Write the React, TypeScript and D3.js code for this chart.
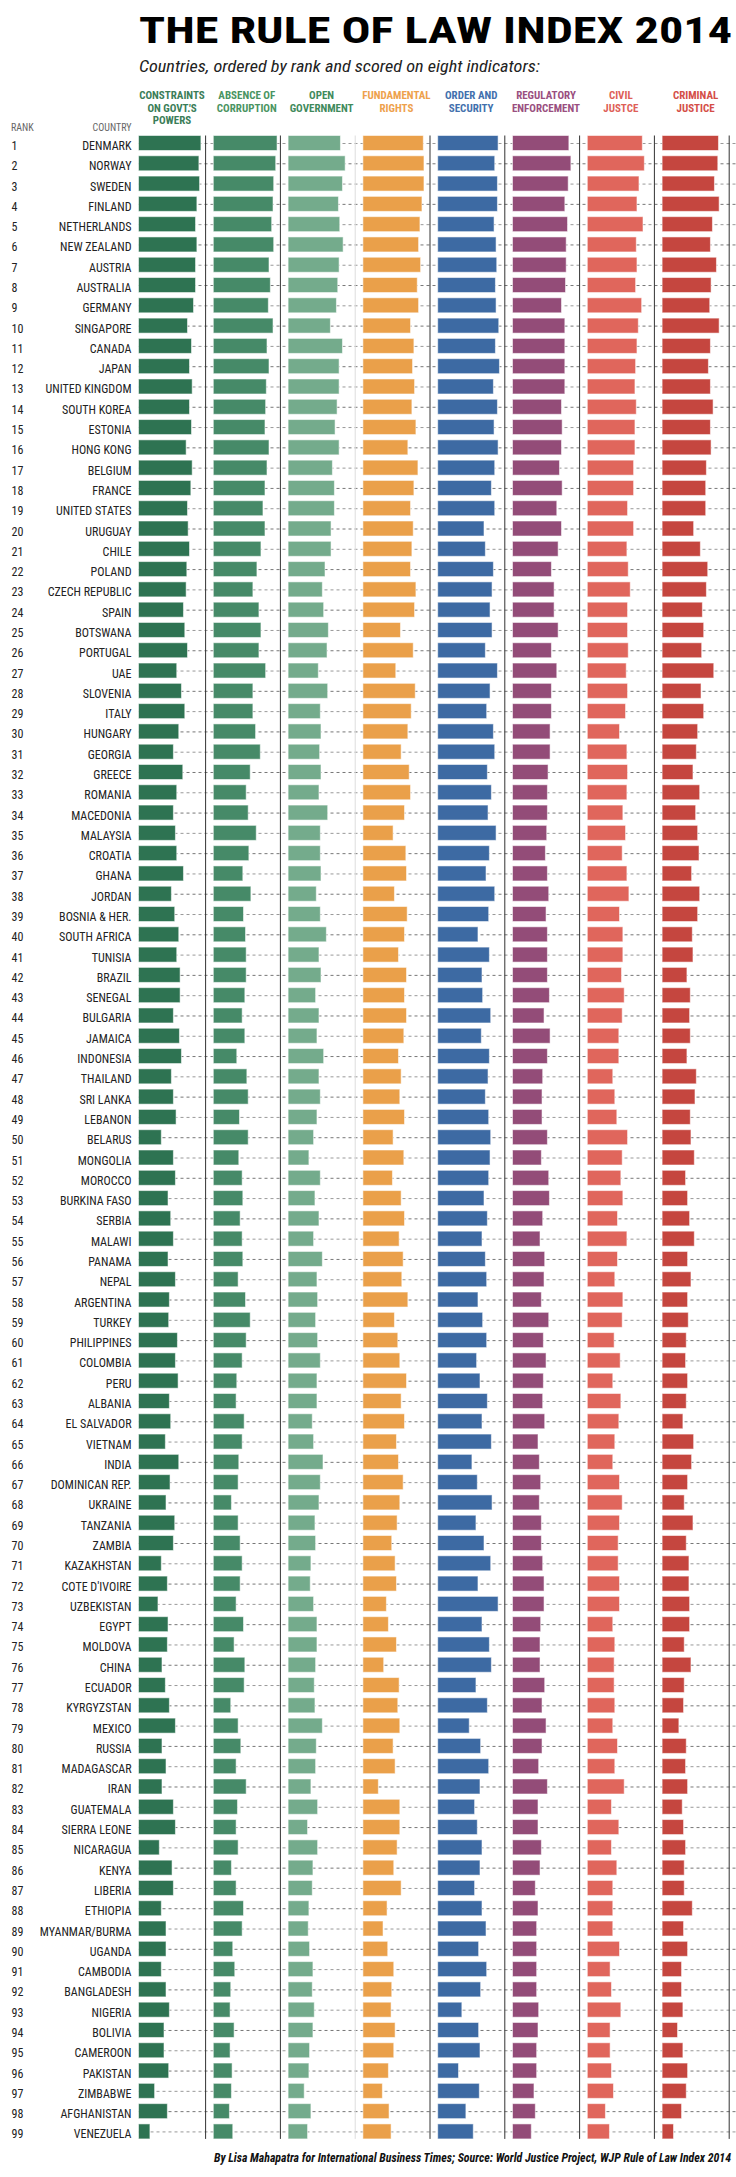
import React from "react";
import * as d3 from "d3";

const countries = ["DENMARK","NORWAY","SWEDEN","FINLAND","NETHERLANDS","NEW ZEALAND","AUSTRIA","AUSTRALIA","GERMANY","SINGAPORE",
"CANADA","JAPAN","UNITED KINGDOM","SOUTH KOREA","ESTONIA","HONG KONG","BELGIUM","FRANCE","UNITED STATES","URUGUAY",
"CHILE","POLAND","CZECH REPUBLIC","SPAIN","BOTSWANA","PORTUGAL","UAE","SLOVENIA","ITALY","HUNGARY",
"GEORGIA","GREECE","ROMANIA","MACEDONIA","MALAYSIA","CROATIA","GHANA","JORDAN","BOSNIA & HER.","SOUTH AFRICA",
"TUNISIA","BRAZIL","SENEGAL","BULGARIA","JAMAICA","INDONESIA","THAILAND","SRI LANKA","LEBANON","BELARUS",
"MONGOLIA","MOROCCO","BURKINA FASO","SERBIA","MALAWI","PANAMA","NEPAL","ARGENTINA","TURKEY","PHILIPPINES",
"COLOMBIA","PERU","ALBANIA","EL SALVADOR","VIETNAM","INDIA","DOMINICAN REP.","UKRAINE","TANZANIA","ZAMBIA",
"KAZAKHSTAN","COTE D'IVOIRE","UZBEKISTAN","EGYPT","MOLDOVA","CHINA","ECUADOR","KYRGYZSTAN","MEXICO","RUSSIA",
"MADAGASCAR","IRAN","GUATEMALA","SIERRA LEONE","NICARAGUA","KENYA","LIBERIA","ETHIOPIA","MYANMAR/BURMA","UGANDA",
"CAMBODIA","BANGLADESH","NIGERIA","BOLIVIA","CAMEROON","PAKISTAN","ZIMBABWE","AFGHANISTAN","VENEZUELA"];

const constraints = [.93,.90,.91,.87,.85,.87,.85,.85,.82,.73,
.79,.76,.80,.76,.79,.71,.80,.78,.73,.74,
.76,.72,.71,.67,.69,.73,.57,.64,.69,.60,
.52,.66,.57,.52,.55,.57,.67,.49,.54,.60,
.57,.62,.62,.52,.61,.64,.49,.52,.56,.34,
.52,.55,.44,.48,.52,.44,.55,.46,.45,.58,
.55,.59,.46,.48,.40,.60,.47,.41,.54,.52,
.34,.43,.29,.44,.43,.35,.40,.46,.55,.35,
.41,.35,.52,.55,.31,.50,.52,.34,.41,.41,
.34,.41,.46,.38,.38,.45,.24,.43,.17];

const corruption = [.95,.93,.90,.89,.87,.90,.83,.85,.82,.89,
.80,.83,.79,.78,.77,.83,.80,.77,.74,.77,
.71,.65,.59,.68,.71,.68,.78,.59,.59,.63,
.70,.55,.49,.52,.64,.53,.44,.56,.45,.48,
.49,.49,.47,.43,.47,.35,.50,.52,.39,.52,
.38,.43,.44,.40,.43,.44,.37,.48,.55,.49,
.43,.35,.34,.46,.43,.38,.37,.27,.37,.40,
.43,.40,.34,.45,.31,.47,.46,.26,.37,.41,
.34,.49,.36,.34,.37,.27,.34,.45,.43,.29,
.32,.26,.25,.31,.25,.28,.27,.24,.29];

const openGov = [.78,.85,.81,.75,.77,.82,.76,.74,.72,.63,
.81,.76,.76,.73,.70,.76,.66,.69,.69,.64,
.64,.55,.51,.53,.60,.58,.45,.59,.48,.49,
.47,.49,.46,.59,.48,.48,.49,.42,.48,.57,
.46,.49,.41,.46,.43,.53,.46,.48,.43,.38,
.31,.48,.40,.46,.38,.51,.43,.44,.41,.44,
.48,.43,.43,.36,.38,.52,.48,.46,.40,.41,
.34,.33,.38,.43,.43,.41,.39,.40,.51,.42,
.41,.34,.44,.29,.44,.37,.36,.31,.30,.32,
.37,.36,.39,.37,.32,.31,.24,.34,.29];

const fundRights = [.90,.91,.91,.88,.85,.83,.86,.81,.83,.71,
.76,.74,.77,.73,.79,.67,.82,.76,.71,.75,
.73,.71,.79,.77,.56,.75,.49,.78,.72,.67,
.57,.69,.71,.62,.45,.64,.65,.47,.66,.62,
.53,.65,.62,.65,.61,.53,.57,.55,.62,.45,
.61,.44,.57,.62,.54,.60,.58,.67,.47,.52,
.55,.65,.57,.62,.50,.53,.60,.55,.51,.43,
.48,.50,.35,.38,.50,.31,.54,.52,.55,.45,
.48,.23,.55,.55,.51,.46,.57,.36,.30,.37,
.46,.43,.42,.48,.46,.38,.29,.39,.42];

const orderSec = [.90,.85,.89,.89,.84,.87,.88,.86,.87,.91,
.86,.92,.83,.89,.84,.90,.85,.80,.85,.69,
.71,.83,.81,.78,.81,.71,.89,.78,.73,.83,
.85,.74,.80,.75,.87,.77,.72,.85,.76,.60,
.77,.66,.67,.79,.65,.77,.75,.71,.76,.79,
.78,.76,.69,.74,.66,.71,.73,.60,.67,.73,
.58,.63,.74,.66,.80,.51,.59,.81,.57,.69,
.79,.60,.90,.66,.77,.80,.57,.74,.47,.64,
.76,.63,.55,.59,.66,.63,.55,.66,.72,.61,
.73,.64,.36,.61,.63,.31,.62,.42,.53];

const regEnf = [.84,.87,.83,.78,.82,.80,.80,.79,.73,.78,
.78,.78,.78,.73,.74,.73,.70,.74,.66,.73,
.68,.58,.62,.62,.68,.58,.66,.58,.58,.56,
.56,.53,.52,.52,.51,.49,.52,.54,.50,.52,
.52,.52,.55,.47,.56,.52,.45,.44,.44,.52,
.43,.54,.55,.45,.41,.48,.47,.43,.54,.46,
.50,.46,.45,.48,.38,.40,.42,.40,.43,.43,
.45,.47,.47,.42,.41,.41,.48,.44,.50,.44,
.39,.52,.38,.38,.43,.41,.34,.38,.36,.36,
.36,.36,.39,.38,.36,.36,.32,.34,.28];

const civilJustice = [.82,.85,.77,.74,.83,.73,.74,.72,.81,.76,
.74,.72,.71,.73,.71,.71,.69,.69,.60,.69,
.59,.61,.64,.60,.60,.61,.58,.60,.57,.48,
.59,.60,.59,.53,.57,.52,.59,.62,.48,.53,
.53,.51,.55,.52,.47,.47,.38,.41,.44,.60,
.52,.50,.53,.45,.59,.45,.41,.53,.52,.40,
.49,.38,.50,.47,.41,.38,.48,.52,.48,.46,
.46,.48,.48,.38,.41,.40,.40,.41,.38,.45,
.41,.55,.36,.47,.36,.44,.38,.38,.38,.48,
.34,.36,.50,.34,.34,.36,.39,.27,.33];

const criminalJustice = [.84,.83,.78,.85,.75,.72,.81,.73,.71,.85,
.72,.69,.72,.76,.72,.73,.66,.65,.65,.47,
.57,.68,.66,.60,.62,.59,.77,.58,.62,.53,
.51,.46,.56,.50,.53,.55,.44,.56,.53,.45,
.46,.37,.42,.41,.42,.37,.51,.49,.42,.43,
.48,.35,.38,.41,.48,.38,.43,.38,.39,.36,
.35,.38,.36,.31,.47,.44,.38,.33,.46,.36,
.40,.40,.41,.41,.33,.43,.33,.32,.25,.36,
.35,.38,.30,.32,.35,.33,.33,.45,.32,.38,
.29,.29,.31,.23,.31,.38,.36,.29,.17];

const indicatorLabels = [
  ["CONSTRAINTS", "ON GOVT.'S", "POWERS"],
  ["ABSENCE OF", "CORRUPTION"],
  ["OPEN", "GOVERNMENT"],
  ["FUNDAMENTAL", "RIGHTS"],
  ["ORDER AND", "SECURITY"],
  ["REGULATORY", "ENFORCEMENT"],
  ["CIVIL", "JUSTCE"],
  ["CRIMINAL", "JUSTICE"],
];
const seriesList = [constraints, corruption, openGov, fundRights, orderSec, regEnf, civilJustice, criminalJustice];
const barColors = ["#2e7352", "#468a68", "#74ab8c", "#eaa04a", "#3d6aa3", "#934c78", "#e0665c", "#c5463f"];
const headColors = ["#3a7d58", "#4a9462", "#3f8a5c", "#eea14c", "#4270ad", "#9a4f80", "#de5f58", "#d44e47"];

const NARROW = "'Liberation Sans Narrow', 'Arial Narrow', 'Roboto Condensed', 'DejaVu Sans Condensed', sans-serif";

export default function App() {
  const W = 736, H = 2177;
  const col = d3.scaleBand<number>().domain(d3.range(8)).range([138.5, 138.5 + 8 * 74.8]).padding(0);
  const x = d3.scaleLinear().domain([0, 1]).range([0, 67.1]);
  const y = d3.scaleLinear().domain([0, countries.length - 1]).range([135.5, 135.5 + 98 * 20.29]);
  const barH = 15;
  const top = y(0), bottom = y(countries.length - 1) + barH;

  return (
    <svg width={W} height={H} style={{ position: "absolute", left: 0, top: 0, background: "#fff" }}>
      <text x={139} y={43} fontFamily={NARROW} fontWeight="bold" fontSize={37} fill="#000"
        textLength={593} lengthAdjust="spacingAndGlyphs">THE RULE OF LAW INDEX 2014</text>
      <text x={139} y={72} fontFamily={NARROW} fontStyle="italic" fontSize={16} fill="#222"
        textLength={401} lengthAdjust="spacingAndGlyphs">Countries, ordered by rank and scored on eight indicators:</text>

      {indicatorLabels.map((lines, c) => (
        <text key={"h" + c} x={(col(c) as number) + 33.5} textAnchor="middle" fontFamily={NARROW}
          fontWeight="bold" fontSize={11} fill={headColors[c]}>
          {lines.map((l, k) => (
            <tspan key={k} x={(col(c) as number) + 33.5} y={99 + k * 12.5}>{l}</tspan>
          ))}
        </text>
      ))}
      <text x={11} y={131} fontFamily={NARROW} fontSize={10} fill="#666">RANK</text>
      <text x={131.5} y={131} textAnchor="end" fontFamily={NARROW} fontSize={10} fill="#666">COUNTRY</text>

      {countries.map((name, i) => {
        const ty = y(i);
        return (
          <g key={name}>
            <line x1={138.5} x2={736} y1={ty + 8} y2={ty + 8} stroke={i % 2 ? "#777" : "#999"} strokeWidth={1} strokeDasharray="3,3" />
            <text x={11.5} y={ty + 14.5} fontFamily={NARROW} fontSize={12} fill="#222">{i + 1}</text>
            <text x={131.5} y={ty + 14.5} textAnchor="end" fontFamily={NARROW} fontSize={12} fill="#222">{name}</text>
          </g>
        );
      })}

      {d3.range(8).map((c) => (
        <line key={"v" + c} x1={(col(c) as number) + x(1)} x2={(col(c) as number) + x(1)} y1={top} y2={bottom}
          stroke={c === 2 ? "#ddd" : "#333"} strokeWidth={1} />
      ))}

      {seriesList.map((vals, c) => (
        <g key={"s" + c}>
          {vals.map((v, i) => (
            <rect key={i} x={col(c) as number} y={y(i)} width={x(v)} height={barH}
              fill={barColors[c]} stroke="rgba(255,255,255,0.55)" strokeWidth={1} />
          ))}
        </g>
      ))}

      <text x={731} y={2162} textAnchor="end" fontFamily={NARROW} fontStyle="italic" fontWeight="bold" fontSize={12}
        fill="#111" textLength={517} lengthAdjust="spacingAndGlyphs">
        By Lisa Mahapatra for International Business Times; Source: World Justice Project, WJP Rule of Law Index 2014
      </text>
    </svg>
  );
}
